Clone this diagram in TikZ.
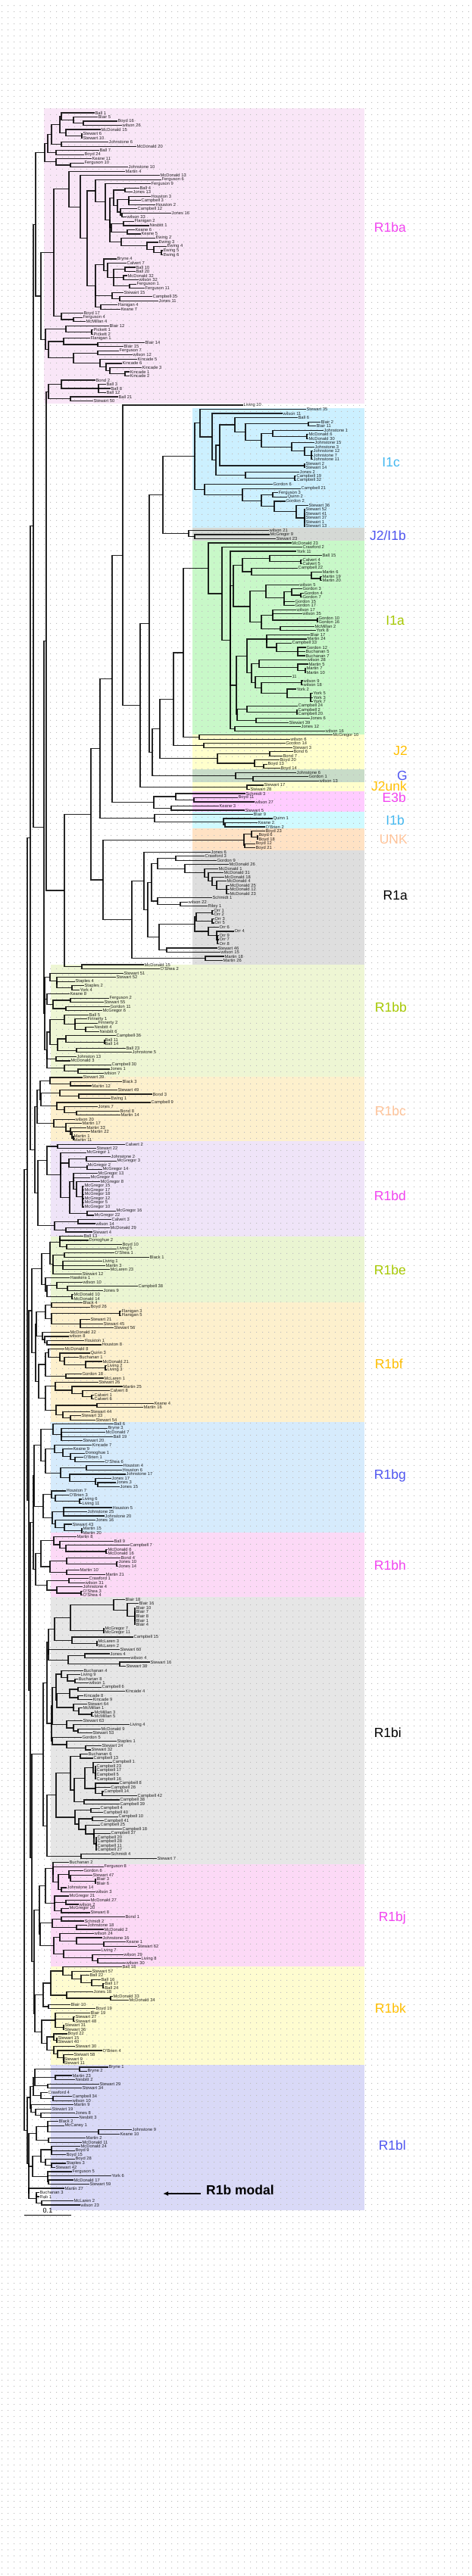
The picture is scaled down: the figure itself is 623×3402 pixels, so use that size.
\documentclass[tikz,border=0pt]{standalone}
\usepackage{fontspec}
\setmainfont{Liberation Sans}
\usetikzlibrary{arrows.meta,patterns}
\definecolor{bxRba}{HTML}{F9E6F7}
\definecolor{bxIc}{HTML}{CCF0FF}
\definecolor{bxJI}{HTML}{D5D9D5}
\definecolor{bxIa}{HTML}{C8F8C8}
\definecolor{bxJ}{HTML}{FFFFCC}
\definecolor{bxG}{HTML}{C8DCC8}
\definecolor{bxE}{HTML}{FFCCFF}
\definecolor{bxIb}{HTML}{D0FAFF}
\definecolor{bxU}{HTML}{FFE2C4}
\definecolor{bxRa}{HTML}{DEDEDE}
\definecolor{bxRbb}{HTML}{EEF6D4}
\definecolor{bxRbc}{HTML}{FDF0CD}
\definecolor{bxRbd}{HTML}{EFE4F8}
\definecolor{bxRbe}{HTML}{EAF5D2}
\definecolor{bxRbf}{HTML}{FDF0CD}
\definecolor{bxRbg}{HTML}{D6EBFC}
\definecolor{bxRbh}{HTML}{FCD9F6}
\definecolor{bxRbi}{HTML}{E6E6E6}
\definecolor{bxRbj}{HTML}{FCD9F6}
\definecolor{bxRbk}{HTML}{FEFCD0}
\definecolor{bxRbl}{HTML}{D9D9F7}
\definecolor{lbMag}{HTML}{F244F0}
\definecolor{lbLBlue}{HTML}{44B8F0}
\definecolor{lbBlue}{HTML}{4F55F0}
\definecolor{lbGreen}{HTML}{A6C800}
\definecolor{lbOrange}{HTML}{FFBF00}
\definecolor{lbPeach}{HTML}{FFC49A}
\pgfdeclarepatternformonly{bgdots}{\pgfqpoint{0pt}{0pt}}{\pgfqpoint{8pt}{8pt}}{\pgfqpoint{8pt}{8pt}}{\pgfpathrectangle{\pgfqpoint{3.5pt}{3.5pt}}{\pgfqpoint{1pt}{1pt}}\pgfusepath{fill}}
\makeatletter
\newdimen\trLY
\def\trStep{5.515pt}
\newcount\trNC
\def\Fy{}\def\Ly{}\def\Clist{}
\newcommand\SetY[1]{\global\trLY=#1pt\relax}
\newcommand\trAdd[2]{%
  \ifx\Fy\empty\edef\Fy{#2}\fi
  \edef\Ly{#2}%
  \ifx\Clist\empty\edef\Clist{#1}\else\edef\Clist{\Clist,#1}\fi}
\newcommand\Lf[2]{%
  \global\advance\trNC by 1\relax
  \edef\tmpname{n\the\trNC}%
  \edef\tmpy{\strip@pt\trLY}%
  \node[leaf] (\tmpname) at (#1,\tmpy) {#2};
  \global\advance\trLY by \trStep\relax
  \trAdd{\tmpname}{\tmpy}}
\newcommand\Tn[2]{%
  \begingroup
    \def\Fy{}\def\Ly{}\def\Clist{}%
    #2%
    \pgfmathsetmacro\tmpy{(\Fy+\Ly)/2}%
    \global\advance\trNC by 1\relax
    \edef\tmpname{n\the\trNC}%
    \coordinate (\tmpname) at (#1,\tmpy);
    \foreach \c in \Clist {\draw[br] (\tmpname) |- (\c);}%
    \xdef\Texp{\tmpname}\xdef\TexpY{\tmpy}%
  \endgroup
  \trAdd{\Texp}{\TexpY}}
\makeatother
% ---------------- R1ba ----------------
\newcommand\trRbaA{%
\Tn{59}{%
 \Tn{63}{%
  \Tn{68}{%
   \Tn{79}{%
    \Tn{81}{\Lf{125}{Ball 1}\Tn{97}{\Lf{129}{Blair 5}\Tn{110}{\Lf{155}{Boyd 16}\Lf{161}{wilson 26}}}}%
    \Tn{87}{\Lf{133}{McDonald 15}\Tn{108}{\Lf{109}{Stewart 6}\Lf{109}{Stewart 10}}}}%
   \Tn{81}{\Lf{143}{Johnstone 6}\Lf{180}{McDonald 20}}}%
  \Tn{74}{\Lf{131}{Ball 7}\Lf{111}{Boyd 24}}}%
 \Tn{74}{\Lf{121}{Keane 11}\Tn{93}{\Lf{111}{Ferguson 10}\Lf{169}{Johnstone 10}}}}}
\newcommand\trRbaB{%
\Tn{71}{%
 \Tn{91}{\Lf{165}{Martin 4}%
  \Tn{106}{\Lf{211}{McDonald 13}%
   \Tn{115}{%
    \Tn{126}{\Lf{213}{Ferguson 6}%
     \Tn{139}{\Lf{199}{Ferguson 9}%
      \Tn{145}{%
       \Tn{150}{\Tn{165}{\Lf{184}{Ball 4}\Lf{175}{Jones 13}}%
        \Tn{155}{\Tn{170}{\Lf{199}{Houston 3}\Tn{170}{\Lf{186}{Campbell 3}\Lf{205}{Houston 2}}}%
         \Tn{159}{\Lf{181}{Campbell 12}\Tn{161}{\Lf{226}{Jones 16}\Lf{167}{wilson 33}}}}}%
       \Tn{147}{\Tn{163}{\Lf{177}{Flanigan 2}\Lf{197}{Nesbitt 1}}\Tn{168}{\Lf{178}{Keane 6}\Lf{186}{Keane 5}}}%
       \Tn{160}{\Lf{205}{Ewing 2}\Tn{194}{\Lf{209}{Ewing 3}\Tn{203}{\Lf{220}{Ewing 4}\Tn{213}{\Lf{215}{Ewing 5}\Lf{215}{Ewing 6}}}}}%
      }}}%
    \Tn{126}{%
     \Tn{137}{\Lf{154}{Bryne 4}\Tn{142}{\Lf{167}{Calvert 7}\Tn{150}{\Tn{165}{\Lf{179}{Ball 10}\Lf{179}{Ball 20}}\Tn{163}{\Lf{168}{McDonald 32}\Lf{183}{wilson 32}}\Tn{171}{\Lf{180}{Ferguson 1}\Lf{191}{Ferguson 11}}}}}%
     \Tn{148}{\Lf{163}{Stewart 15}\Tn{158}{\Lf{201}{Campbell 35}\Lf{209}{Jones 11}}}%
     \Tn{133}{\Lf{155}{Flanigan 4}\Lf{159}{Keane 7}}}%
   }}}%
 \Tn{81}{\Lf{110}{Boyd 17}\Tn{97}{\Lf{109}{Ferguson 4}\Lf{113}{McMillan 4}}}}}
\newcommand\trRbaC{%
\Tn{60}{%
 \Tn{87}{\Lf{144}{Blair 12}\Tn{121}{\Lf{123}{Pickett 1}\Lf{123}{Pickett 2}}}%
 \Tn{64}{%
  \Tn{84}{\Lf{119}{Flanigan 1}\Tn{129}{\Lf{191}{Blair 14}\Lf{163}{Blair 15}}}%
  \Tn{97}{\Tn{129}{\Lf{157}{Ferguson 7}\Lf{175}{wilson 12}}%
   \Tn{132}{\Lf{181}{Kincade 5}\Tn{140}{\Lf{161}{Kincade 6}\Tn{145}{\Lf{187}{Kincade 3}\Tn{165}{\Lf{171}{Kincade 1}\Lf{171}{Kincade 2}}}}}}}}}
\newcommand\trRbaD{%
\Tn{64}{%
 \Tn{81}{\Lf{126}{Bond 2}\Tn{130}{\Lf{140}{Ball 3}\Lf{146}{Ball 8}\Lf{140}{Ball 12}}}%
 \Tn{93}{\Lf{156}{Ball 21}\Lf{123}{Stewart 50}}}}
% ---------------- non-R1b ----------------
\newcommand\trIc{%
\Tn{257}{%
 \Tn{264}{\Lf{404}{Stewart 35}%
  \Tn{280}{\Lf{373}{wilson 11}%
   \Tn{285}{%
    \Tn{290}{%
     \Tn{310}{\Lf{393}{Ball 6}%
      \Tn{324}{\Tn{407}{\Lf{423}{Blair 2}\Lf{417}{Blair 11}}%
       \Tn{345}{\Tn{360}{\Lf{427}{Johnstone 1}\Tn{405}{\Lf{407}{McDonald 6}\Lf{407}{McDonald 30}}}%
        \Tn{385}{\Lf{415}{Johnstone 15}\Tn{402}{\Lf{415}{Johnstone 3}\Tn{411}{\Lf{413}{Johnstone 12}\Lf{413}{Johnstone 7}\Lf{413}{Johnstone 11}}}}}}}%
     \Tn{402}{\Lf{403}{Stewart 2}\Lf{403}{Stewart 14}}}%
    \Tn{324}{\Lf{395}{Jones 2}\Tn{389}{\Lf{391}{Campbell 19}\Lf{391}{Campbell 32}}}}}}%
 \Tn{270}{\Lf{360}{Gordon 6}%
  \Tn{320}{\Lf{397}{Campbell 21}%
   \Tn{345}{\Tn{360}{\Lf{367}{Ferguson 3}\Lf{379}{Quinn 2}}%
    \Tn{362}{\Lf{377}{Gordon 2}\Tn{391}{\Lf{407}{Stewart 36}\Tn{402}{\Lf{403}{Stewart 52}\Lf{403}{Stewart 41}\Lf{403}{Stewart 37}\Lf{403}{Stewart 1}\Lf{403}{Stewart 13}}}}}}}}}
\newcommand\trJtwoIb{\Tn{249}{\Lf{355}{wilson 21}\Tn{257}{\Lf{356}{McGregor 9}\Lf{364}{Stewart 23}}}}
\newcommand\trIa{%
\Tn{275}{\Lf{385}{McDonald 23}%
 \Tn{293}{\Lf{399}{Crawford 2}%
  \Tn{304}{\Lf{391}{York 11}%
   \Tn{308}{%
    \Tn{320}{\Tn{356}{\Lf{425}{Ball 15}\Tn{397}{\Lf{399}{Calvert 4}\Lf{399}{Calvert 5}}}%
     \Tn{332}{\Lf{393}{Campbell 22}\Tn{411}{\Lf{425}{Martin 6}\Tn{423}{\Lf{425}{Martin 19}\Lf{425}{Martin 20}}}}}%
    \Tn{330}{\Tn{351}{\Lf{395}{wilson 5}\Tn{375}{\Tn{385}{\Lf{399}{Gordon 3}\Tn{397}{\Lf{401}{Gordon 4}\Lf{399}{Gordon 7}}}\Tn{375}{\Lf{389}{Gordon 15}\Lf{389}{Gordon 17}}}}%
     \Tn{345}{\Tn{360}{\Lf{391}{wilson 17}\Lf{399}{wilson 35}\Tn{419}{\Lf{420}{Gordon 10}\Lf{420}{Gordon 16}}}\Tn{370}{\Lf{415}{McMillan 2}\Lf{417}{York 8}}}}}%
   \Tn{312}{%
    \Tn{326}{\Tn{352}{\Lf{409}{Blair 17}\Tn{352}{\Lf{405}{Martin 24}\Tn{365}{\Lf{385}{Campbell 33}\Tn{393}{\Lf{404}{Gordon 12}\Lf{403}{Buchanan 5}\Lf{403}{Buchanan 7}}}}}%
     \Tn{332}{\Tn{342}{\Lf{405}{wilson 28}\Tn{393}{\Lf{407}{Martin 5}\Tn{403}{\Lf{404}{Martin 7}\Lf{404}{Martin 10}}}}%
      \Tn{337}{\Lf{385}{11}\Tn{345}{\Tn{398}{\Lf{400}{wilson 9}\Lf{400}{wilson 18}}\Tn{379}{\Lf{391}{York 2}\Tn{410}{\Lf{413}{York 5}\Lf{413}{York 3}\Lf{413}{York 7}}}}}}}%
    \Tn{313}{\Tn{326}{\Lf{393}{Campbell 24}\Tn{392}{\Lf{393}{Campbell 2}\Lf{393}{Campbell 20}}}\Tn{338}{\Lf{409}{Jones 6}\Lf{381}{Stewart 39}}}}%
   \Tn{310}{\Lf{397}{Jones 12}\Lf{429}{wilson 16}}}}}}
\newcommand\trJtwoA{\Tn{263}{\Lf{439}{McGregor 10}\Lf{383}{wilson 6}}}
\newcommand\trJtwoB{\Tn{269}{\Lf{377}{Gordon 14}\Lf{386}{Stewart 3}}}
\newcommand\trJtwoC{\Tn{287}{\Tn{356}{\Lf{387}{Bond 6}\Lf{373}{Bond 7}}\Tn{336}{\Lf{369}{Boyd 20}\Tn{348}{\Lf{353}{Boyd 13}\Lf{370}{Boyd 14}}}}}
\newcommand\trGG{\Tn{311}{\Lf{391}{Johnstone 6}\Tn{334}{\Lf{407}{Gordon 1}\Lf{421}{wilson 13}}}}
\newcommand\trJunk{\Tn{326}{\Lf{348}{Stewart 17}\Lf{330}{Stewart 28}}}
\newcommand\trEb{\Tn{203}{\Tn{232}{\Lf{324}{Schmidt 3}\Tn{256}{\Lf{314}{Boyd 11}\Lf{336}{wilson 27}}}\Tn{226}{\Lf{289}{Keane 3}\Lf{323}{Stewart 5}}}}
\newcommand\trIb{\Tn{204}{\Lf{334}{Blair 9}\Tn{295}{\Lf{360}{Quinn 1}\Tn{297}{\Lf{340}{Keane 2}\Lf{350}{O'Brien 2}}}}}
\newcommand\trUNK{\Tn{322}{\Tn{332}{\Lf{350}{Boyd 23}\Tn{340}{\Lf{341}{Boyd 6}\Lf{341}{Boyd 18}}}\Tn{323}{\Lf{337}{Boyd 12}\Lf{337}{Boyd 21}}}}
\newcommand\trRa{%
\Tn{174}{%
 \Tn{190}{\Lf{278}{Jones 6}%
  \Tn{195}{%
   \Tn{200}{%
    \Tn{208}{\Tn{232}{\Lf{270}{Crawford 3}\Lf{286}{Gordon 9}}%
     \Tn{244}{\Lf{302}{McDonald 26}\Tn{270}{\Lf{288}{McDonald 1}\Tn{275}{\Lf{295}{McDonald 31}\Tn{280}{\Lf{296}{McDonald 18}\Tn{286}{\Lf{299}{McDonald 4}\Tn{299}{\Lf{303}{McDonald 25}\Lf{303}{McDonald 12}\Lf{303}{McDonald 23}}}}}}}}%
    \Tn{208}{\Lf{280}{Schmidt 1}\Tn{238}{\Lf{248}{wilson 22}\Lf{274}{Riley 1}}}}%
   \Tn{210}{%
    \Tn{257}{\Tn{259}{\Tn{280}{\Lf{282}{Orr 1}\Lf{282}{Orr 2}}\Tn{280}{\Lf{283}{Orr 3}\Lf{283}{Orr 5}}}%
     \Tn{275}{\Lf{289}{Orr 6}\Tn{286}{\Lf{309}{Orr 4}\Tn{287}{\Lf{289}{Orr 9}\Lf{289}{Orr 7}\Lf{289}{Orr 8}}}}}%
    \Tn{220}{\Lf{287}{Stewart 46}\Lf{291}{wilson 15}}}}}%
 \Tn{271}{\Lf{296}{Martin 18}\Lf{294}{Martin 26}}}}
\newcommand\trNon{%
\Tn{85}{%
 \Tn{120}{%
  \Tn{132}{%
   \Tn{148}{%
    \Tn{162}{\Lf{321}{Living 10}%
     \Tn{185}{%
      \Tn{197}{%
       \Tn{215}{\trIc\trJtwoIb}%
       \Tn{201}{%
        \Tn{211}{%
         \Tn{229}{\Tn{242}{\trIa\trJtwoA}\trJtwoB}%
         \trJtwoC}%
        \trGG}}%
      \trJunk}}%
    \trEb}%
   \trIb}%
  \Tn{136}{\trUNK\trRa}}%
 \Tn{108}{\Lf{190}{McDonald 15}\Lf{211}{O'Shea 2}}}}
% ---------------- R1b subclades ----------------
\newcommand\trRbb{%
\Tn{59}{%
 \Tn{66}{\Lf{163}{Stewart 51}\Tn{75}{\Lf{153}{Stewart 52}\Tn{75}{\Lf{99}{Staples 4}\Tn{95}{\Lf{111}{Staples 2}\Lf{105}{York 4}}}}}%
 \Tn{62}{\Lf{92}{Keane 8}\Tn{70}{\Tn{93}{\Lf{144}{Ferguson 2}\Lf{137}{Stewart 55}}\Tn{87}{\Lf{145}{Gordon 11}\Lf{135}{McGregor 6}}}}%
 \Tn{62}{%
  \Tn{66}{\Tn{85}{\Lf{117}{Ball 5}\Tn{99}{\Lf{115}{Finnerty 1}\Lf{129}{Finnerty 2}\Tn{113}{\Lf{124}{Nesbitt 4}\Lf{131}{Nesbitt 6}}}}%
   \Tn{76}{\Tn{87}{\Lf{153}{Campbell 36}\Tn{138}{\Lf{138}{Ball 11}\Lf{138}{Ball 14}}}\Tn{101}{\Lf{166}{Ball 23}\Lf{174}{Johnstone 5}}}}%
  \Tn{74}{\Lf{101}{Johnston 13}\Lf{93}{McDonald 3}}%
  \Tn{85}{\Lf{147}{Campbell 30}\Tn{103}{\Lf{145}{Jones 1}\Lf{137}{wilson 7}}}}}}
\newcommand\trRbc{%
\Tn{49}{%
 \Tn{53}{\Tn{66}{\Lf{109}{Stewart 39}\Tn{93}{\Lf{161}{Black 3}\Lf{121}{Martin 12}}}%
  \Tn{54}{\Tn{79}{\Lf{155}{Stewart 49}\Tn{104}{\Lf{201}{Bond 3}\Lf{146}{Ewing 1}}}%
   \Tn{75}{\Lf{199}{Campbell 9}\Tn{85}{\Lf{129}{Jones 7}\Tn{101}{\Lf{158}{Bond 8}\Lf{159}{Martin 14}}}}}}%
 \Tn{71}{\Lf{99}{wilson 20}\Tn{87}{\Lf{108}{Martin 17}\Tn{93}{\Lf{114}{Martin 33}\Tn{95}{\Lf{119}{Martin 22}\Tn{97}{\Lf{97}{Martin 1}\Lf{97}{Martin 11}}}}}}}}
\newcommand\trRbd{%
\Tn{50}{%
 \Tn{62}{\Tn{76}{\Lf{165}{Calvert 2}\Lf{127}{Stewart 22}}%
  \Tn{80}{\Lf{114}{McGregor 1}%
   \Tn{91}{\Tn{114}{\Lf{146}{Johnstone 2}\Lf{154}{McGregor 3}}\Tn{115}{\Lf{115}{McGregor 2}\Lf{135}{McGregor 14}}}%
   \Tn{92}{\Tn{97}{\Lf{129}{McGregor 13}\Lf{119}{McGregor 4}\Tn{101}{\Lf{132}{McGregor 8}\Tn{109}{\Lf{111}{McGregor 15}\Lf{111}{McGregor 17}\Lf{111}{McGregor 18}\Lf{111}{McGregor 12}\Lf{111}{McGregor 5}\Lf{111}{McGregor 10}}}}%
    \Tn{115}{\Lf{153}{McGregor 16}\Lf{124}{McGregor 22}}}}}%
 \Tn{72}{\Tn{103}{\Lf{147}{Calvert 3}\Lf{126}{wilson 14}}\Tn{87}{\Lf{145}{McDonald 29}\Lf{122}{Stewart 4}}}}}
\newcommand\trRbe{%
\Tn{55}{%
 \Tn{66}{\Tn{79}{\Tn{79}{\Lf{110}{Ball 13}\Lf{117}{Donoghue 2}}\Tn{88}{\Lf{161}{Boyd 10}\Lf{154}{Living 5}}}%
  \Tn{70}{\Tn{85}{\Lf{151}{O'Shea 1}\Lf{197}{Black 1}}\Tn{83}{\Lf{135}{Living 1}\Lf{139}{Martin 3}\Lf{145}{McLaren 23}}\Lf{108}{Stewart 12}}}%
 \Tn{60}{\Lf{92}{Hawkins 1}\Tn{62}{\Tn{75}{\Lf{109}{wilson 10}\Tn{89}{\Lf{182}{Campbell 38}\Lf{136}{Jones 9}}}\Tn{95}{\Lf{97}{McDonald 10}\Lf{97}{McDonald 14}}}}}}
\newcommand\trRbf{%
\Tn{47}{%
 \Tn{48}{%
  \Tn{60}{\Tn{68}{\Lf{109}{Black 4}\Lf{119}{Boyd 26}}\Tn{68}{\Tn{158}{\Lf{160}{Flanigan 3}\Lf{160}{Flanigan 5}}\Tn{106}{\Lf{119}{Stewart 21}\Lf{136}{Stewart 45}\Lf{150}{Stewart 56}}}}%
  \Tn{56}{\Lf{92}{McDonald 22}\Tn{59}{\Lf{91}{wilson 8}\Tn{62}{\Lf{111}{Houston 1}\Lf{134}{Houston 8}}}}}%
 \Tn{51}{%
  \Tn{60}{\Tn{64}{\Lf{85}{McDonald 8}\Tn{79}{\Lf{119}{Quinn 3}\Tn{85}{\Lf{104}{Buchanan 1}\Tn{113}{\Lf{135}{McDonald 21}\Tn{139}{\Lf{141}{Living 2}\Lf{141}{Living 3}}}}}}%
   \Tn{87}{\Lf{108}{Gordon 18}\Lf{137}{McLaren 1}}}%
  \Tn{60}{\Tn{73}{\Lf{130}{Stewart 26}\Tn{95}{\Lf{162}{Martin 25}\Tn{109}{\Lf{145}{Calvert 8}\Tn{121}{\Lf{124}{Calvert 1}\Lf{124}{Calvert 6}}}}}%
   \Tn{74}{\Tn{128}{\Lf{203}{Keane 4}\Lf{189}{Martin 16}}\Tn{83}{\Lf{119}{Stewart 44}\Tn{93}{\Lf{107}{Stewart 33}\Lf{126}{Stewart 54}}}}}}}}
\newcommand\trRbg{%
\Tn{45}{%
 \Tn{54}{%
  \Tn{70}{\Lf{150}{Ball 6}\Tn{81}{\Lf{142}{Bryne 3}\Lf{139}{McDonald 7}\Lf{149}{Ball 19}\Lf{109}{Stewart 20}}}%
  \Tn{60}{\Tn{72}{\Lf{121}{Kincade 7}\Tn{83}{\Lf{96}{Keane 9}\Tn{93}{\Lf{112}{Donoghue 1}\Tn{99}{\Lf{110}{O'Brien 1}\Lf{138}{O'Shea 6}}}}}%
   \Tn{80}{\Tn{114}{\Lf{162}{Houston 4}\Lf{161}{Houston 6}}\Tn{92}{\Lf{166}{Johnstone 17}\Tn{126}{\Lf{147}{Jones 17}\Tn{129}{\Lf{153}{Jones 3}\Lf{158}{Jones 15}}}}}}}%
 \Tn{57}{%
  \Tn{68}{\Lf{87}{Houston 7}\Tn{73}{\Lf{91}{O'Brien 3}\Tn{105}{\Lf{108}{Living 6}\Lf{108}{Living 11}}}}%
  \Tn{69}{\Tn{84}{\Lf{148}{Houston 5}\Lf{115}{Johnstone 25}\Lf{138}{Johnstone 20}}\Tn{73}{\Lf{126}{Jones 16}\Tn{85}{\Lf{95}{Stewart 43}\Tn{108}{\Lf{109}{Martin 15}\Lf{109}{Martin 20}}}}}}}}
\newcommand\trRbh{%
\Tn{47}{%
 \Tn{54}{\Tn{71}{\Lf{101}{Martin 8}\Tn{79}{\Lf{150}{Ball 9}\Tn{87}{\Lf{171}{Campbell 7}\Tn{140}{\Lf{142}{McDonald 6}\Lf{142}{McDonald 16}}}}}%
  \Tn{66}{\Tn{88}{\Lf{159}{Bond 4}\Tn{154}{\Lf{156}{Jones 10}\Lf{156}{Jones 14}}}\Tn{88}{\Lf{105}{Martin 10}\Lf{139}{Martin 21}}}}%
 \Tn{62}{\Tn{91}{\Lf{117}{Crawford 1}\Lf{112}{wilson 31}}\Tn{75}{\Lf{109}{Johnstone 4}\Tn{107}{\Lf{109}{O'Shea 3}\Lf{109}{O'Shea 4}}}}}}
\newcommand\trRbi{%
\Tn{57}{%
 \Tn{62}{%
  \Tn{64}{%
   \Tn{72}{\Tn{93}{\Tn{150}{\Lf{165}{Blair 18}\Tn{168}{\Lf{183}{Blair 16}\Tn{178}{\Lf{179}{Blair 10}\Lf{179}{Blair 7}\Lf{179}{Blair 8}\Lf{179}{Blair 1}\Lf{179}{Blair 4}}}}\Tn{137}{\Lf{138}{McGregor 7}\Lf{138}{McGregor 11}}}%
    \Tn{95}{\Lf{176}{Campbell 15}\Tn{128}{\Lf{129}{McLaren 3}\Lf{129}{McLaren 2}}}}%
   \Tn{64}{\Lf{158}{Stewart 60}\Tn{90}{\Tn{112}{\Lf{145}{Jones 4}\Lf{172}{wilson 4}}\Tn{158}{\Lf{198}{Stewart 16}\Lf{166}{Stewart 38}}}}}%
  \Tn{68}{%
   \Tn{69}{\Tn{74}{\Tn{81}{\Lf{110}{Buchanan 4}\Tn{89}{\Lf{106}{Living 9}\Tn{99}{\Lf{103}{Buchanan 8}\Lf{117}{wilson 1}}}}%
     \Tn{75}{\Tn{92}{\Tn{103}{\Lf{134}{Campbell 6}\Lf{165}{Kincade 4}}\Tn{103}{\Lf{110}{Kincade 8}\Lf{122}{Kincade 9}}}\Tn{97}{\Lf{115}{Stewart 64}\Tn{104}{\Lf{109}{McMillan 1}\Tn{121}{\Lf{124}{McMillan 3}\Lf{124}{McMillan 5}}}}}}%
    \Tn{70}{\Tn{88}{\Lf{109}{Stewart 63}\Tn{97}{\Lf{171}{Living 4}\Tn{103}{\Lf{133}{McDonald 9}\Lf{122}{Stewart 53}}}}}}%
   \Tn{69}{\Lf{108}{Gordon 5}\Tn{88}{\Lf{154}{Staples 1}\Tn{113}{\Lf{134}{Stewart 24}\Lf{120}{Stewart 32}}}}}}%
 \Tn{62}{%
  \Tn{74}{%
   \Tn{93}{\Tn{106}{\Lf{116}{Buchanan 6}\Lf{123}{Campbell 13}}%
    \Tn{98}{\Tn{112}{\Tn{123}{\Lf{148}{Campbell 1}\Tn{126}{\Lf{127}{Campbell 23}\Lf{127}{Campbell 17}\Lf{127}{Campbell 5}\Lf{127}{Campbell 16}}}%
      \Tn{126}{\Lf{157}{Campbell 8}\Lf{146}{Campbell 26}\Tn{135}{\Lf{137}{Campbell 14}\Lf{181}{Campbell 42}}}}%
     \Tn{111}{\Lf{158}{Campbell 38}\Lf{158}{Campbell 39}}}}%
   \Tn{99}{\Tn{120}{\Lf{132}{Campbell 4}\Lf{136}{Campbell 40}}%
    \Tn{104}{\Tn{122}{\Lf{156}{Campbell 10}\Lf{137}{Campbell 41}}%
     \Tn{113}{\Lf{132}{Campbell 25}\Tn{124}{\Lf{161}{Campbell 18}\Tn{124}{\Lf{146}{Campbell 37}\Tn{127}{\Lf{128}{Campbell 20}\Lf{128}{Campbell 28}\Lf{128}{Campbell 11}\Lf{128}{Campbell 27}}}}}}}}%
  \Tn{107}{\Lf{146}{Schmidt 4}\Lf{207}{Stewart 7}}}}}
\newcommand\trRbj{%
\Tn{52}{%
 \Tn{60}{%
  \Tn{70}{\Lf{91}{Buchanan 2}\Tn{70}{\Lf{137}{Ferguson 8}\Tn{77}{\Tn{91}{\Lf{110}{Gordon 6}\Tn{93}{\Lf{122}{Stewart 47}\Tn{126}{\Lf{127}{Blair 3}\Lf{127}{Blair 6}}}}\Tn{81}{\Lf{88}{Johnstone 14}\Lf{126}{wilson 3}}}}}%
  \Tn{64}{\Tn{72}{\Lf{91}{McGregor 21}\Tn{87}{\Lf{119}{McDonald 27}\Lf{104}{wilson 2}}\Tn{81}{\Lf{91}{McGregor 20}\Lf{119}{Stewart 8}}}}}%
 \Tn{53}{%
  \Tn{69}{\Tn{81}{\Lf{165}{Bond 1}\Lf{111}{Schmidt 2}}\Tn{101}{\Lf{115}{Johnstone 18}\Lf{137}{McDonald 2}}}%
  \Tn{71}{\Tn{79}{\Lf{124}{wilson 24}\Tn{101}{\Lf{135}{Johnstone 16}\Tn{137}{\Lf{166}{Keane 1}\Lf{181}{Stewart 62}}}}\Tn{84}{\Lf{133}{Living 7}\Tn{122}{\Lf{163}{wilson 29}\Tn{129}{\Lf{186}{Living 8}\Lf{166}{wilson 30}}}}}}}}
\newcommand\trRbk{%
\Tn{46}{%
 \Tn{57}{\Tn{67}{\Tn{83}{\Lf{161}{Ball 18}\Tn{95}{\Lf{121}{Stewart 57}\Tn{107}{\Lf{118}{Ball 22}\Tn{121}{\Lf{133}{Ball 16}\Tn{136}{\Lf{138}{Ball 17}\Lf{138}{Ball 24}}}}}}%
   \Tn{88}{\Lf{123}{Jones 18}\Tn{146}{\Lf{149}{McDonald 33}\Lf{170}{McDonald 34}}}}%
  \Tn{64}{\Lf{93}{Blair 10}\Lf{126}{Boyd 19}}}%
 \Tn{55}{\Tn{73}{\Lf{119}{Blair 19}\Tn{97}{\Lf{99}{Stewart 27}\Lf{99}{Stewart 48}}\Tn{84}{\Lf{85}{Stewart 31}\Lf{85}{Stewart 36}}}%
  \Tn{62}{\Tn{71}{\Lf{89}{Boyd 22}\Tn{75}{\Lf{76}{Stewart 15}\Lf{76}{Stewart 40}}}\Tn{71}{\Lf{99}{Stewart 30}\Tn{76}{\Lf{135}{O'Brien 4}\Tn{84}{\Lf{97}{Stewart 58}\Tn{84}{\Lf{84}{Stewart 9}\Lf{84}{Stewart 11}}}}}}}}}
\newcommand\trRbl{%
\Tn{36}{%
 \Tn{40}{%
  \Tn{44}{\Tn{46}{\Tn{105}{\Lf{143}{Bryne 1}\Lf{115}{Bryne 2}}\Tn{73}{\Lf{95}{Martin 23}\Lf{99}{Nesbitt 2}}\Tn{63}{\Lf{131}{Stewart 29}\Lf{108}{Stewart 34}}}%
   \Tn{54}{\Lf{63}{Crawford 4}\Tn{70}{\Lf{95}{Campbell 34}\Lf{95}{wilson 10}}}}%
  \Tn{41}{\Lf{97}{Martin 9}\Tn{47}{\Lf{68}{Stewart 19}\Tn{54}{\Lf{99}{Jones 8}\Lf{104}{Nesbitt 3}}}}}%
 \Tn{38}{%
  \Tn{48}{\Tn{63}{\Lf{77}{Black 2}\Lf{85}{McCaney 1}\Tn{130}{\Lf{174}{Johnstone 9}\Lf{158}{Keane 10}}}\Tn{64}{\Lf{113}{Martin 2}\Lf{108}{McDonald 11}}}%
  \Tn{43}{\Tn{54}{\Tn{68}{\Lf{106}{McDonald 24}\Tn{68}{\Lf{99}{Boyd 9}\Lf{87}{Boyd 15}}}\Tn{60}{\Lf{99}{Boyd 28}\Tn{68}{\Lf{87}{Staples 3}\Lf{73}{Stewart 42}}}}%
   \Tn{63}{\Lf{95}{Ferguson 5}\Lf{147}{York 6}\Tn{64}{\Lf{97}{McDonald 17}\Lf{118}{Stewart 59}}}}%
  \Tn{38}{\Lf{85}{Martin 27}\Tn{48}{\Tn{48}{\Lf{52}{Buchanan 3}\Lf{52}{Rab 1}}\Tn{55}{\Lf{97}{McLaren 2}\Lf{106}{wilson 23}}}}}}}
\begin{document}
\begin{tikzpicture}[x=1pt,y=-1pt,
  br/.style={line width=1.2pt,draw=black,draw opacity=0.85,line join=miter},
  leaf/.style={anchor=west,inner sep=0.4pt,font=\fontsize{5.8}{6}\selectfont,text=black,text opacity=0.85},
  clade/.style={anchor=east,inner sep=0pt,font=\fontsize{17.5}{18}\selectfont}]
\useasboundingbox (0,0) rectangle (623,3402);
\fill[white] (0,0) rectangle (623,3402);
% clade boxes
\fill[bxRba] (58,143) rectangle (481,533);
\fill[bxIc] (254,539) rectangle (481,697);
\fill[bxJI] (254,697) rectangle (481,714);
\fill[bxIa] (254,714) rectangle (481,970);
\fill[bxJ] (254,970) rectangle (481,1016);
\fill[bxG] (254,1016) rectangle (481,1033);
\fill[bxJ] (254,1033) rectangle (481,1045);
\fill[bxE] (254,1045) rectangle (481,1072);
\fill[bxIb] (254,1072) rectangle (481,1094);
\fill[bxU] (254,1094) rectangle (481,1123);
\fill[bxRa] (254,1123) rectangle (481,1274);
\fill[bxRbb] (67,1274) rectangle (481,1422);
\fill[bxRbc] (67,1422) rectangle (481,1507);
\fill[bxRbd] (67,1507) rectangle (481,1633);
\fill[bxRbe] (67,1633) rectangle (481,1720);
\fill[bxRbf] (67,1720) rectangle (481,1878);
\fill[bxRbg] (67,1878) rectangle (481,2024);
\fill[bxRbh] (67,2024) rectangle (481,2109);
\fill[bxRbi] (67,2109) rectangle (481,2462);
\fill[bxRbj] (67,2462) rectangle (481,2597);
\fill[bxRbk] (67,2597) rectangle (481,2727);
\fill[bxRbl] (67,2727) rectangle (481,2919);
\fill[pattern=bgdots,pattern color=black!25] (0,0) rectangle (623,3402);
% tree
\SetY{149}
\Tn{32}{%
 \Tn{36}{%
  \Tn{40}{%
   \Tn{44}{%
    \Tn{47}{\trRbaA\Tn{54}{\trRbaB\trRbaC}}%
    \Tn{58}{\Tn{61}{\trRbaD\trNon}\trRbb}}%
   \Tn{46}{\trRbc\trRbd}}%
  \Tn{38}{%
   \Tn{42}{\trRbe\trRbf}%
   \Tn{40}{\Tn{44}{\trRbg\trRbh}\Tn{42}{\trRbi\Tn{45}{\trRbj\trRbk}}}}}%
 \trRbl}
% clade labels
\node[clade,text=lbMag] (lRba) at (536,300) {R1ba};
\node[clade,text=lbLBlue] (lIc) at (528,611) {I1c};
\node[clade,text=lbBlue] (lJI) at (536,707) {J2/I1b};
\node[clade,text=lbGreen] (lIa) at (534,820) {I1a};
\node[clade,text=lbOrange] (lJ) at (538,991) {J2};
\node[clade,text=lbBlue] (lG) at (538,1024) {G};
\node[clade,text=lbOrange] (lJu) at (537,1038) {J2unk};
\node[clade,text=lbMag] (lE) at (536,1053) {E3b};
\node[clade,text=lbLBlue] (lIb) at (534,1083) {I1b};
\node[clade,text=lbPeach] (lU) at (538,1109) {UNK};
\node[clade,text=black] (lRa) at (538,1183) {R1a};
\node[clade,text=lbGreen] (lRbb) at (537,1330) {R1bb};
\node[clade,text=lbPeach] (lRbc) at (536,1467) {R1bc};
\node[clade,text=lbMag] (lRbd) at (536,1579) {R1bd};
\node[clade,text=lbGreen] (lRbe) at (536,1677) {R1be};
\node[clade,text=lbOrange] (lRbf) at (532,1801) {R1bf};
\node[clade,text=lbBlue] (lRbg) at (536,1949) {R1bg};
\node[clade,text=lbMag] (lRbh) at (536,2067) {R1bh};
\node[clade,text=black] (lRbi) at (530,2288) {R1bi};
\node[clade,text=lbMag] (lRbj) at (536,2533) {R1bj};
\node[clade,text=lbOrange] (lRbk) at (536,2652) {R1bk};
\node[clade,text=lbBlue] (lRbl) at (536,2833) {R1bl};
% modal marker
\node[anchor=west,inner sep=0pt,font=\fontsize{17.5}{18}\selectfont\bfseries] (modal) at (272,2892) {R1b modal};
\coordinate (arrS) at (265,2897);
\coordinate (arrT) at (215,2897);
\draw[line width=2pt,-{Latex[length=7pt,width=6pt]}] (arrS) -- (arrT);
% scale bar
\coordinate (sbA) at (32,2925);
\coordinate (sbB) at (94,2925);
\draw[line width=0.8pt] (sbA) -- (sbB);
\node[inner sep=0pt,font=\fontsize{9}{10}\selectfont] (sbl) at (63,2919) {0.1};
\end{tikzpicture}
\end{document}
